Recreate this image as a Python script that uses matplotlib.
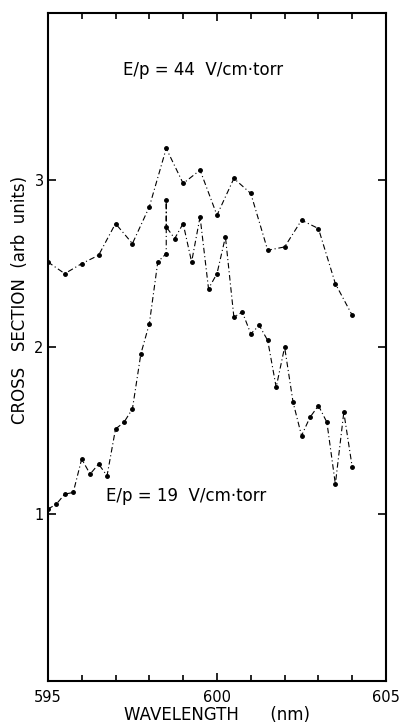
import matplotlib
matplotlib.use("Agg")
import matplotlib.pyplot as plt
from matplotlib.ticker import MultipleLocator

# E/p = 44 V/cm·torr (upper curve)
wl_44 = [595.0, 595.5, 596.0, 596.5, 597.0, 597.5, 598.0, 598.5, 599.0, 599.5,
         600.0, 600.5, 601.0, 601.5, 602.0, 602.5, 603.0, 603.5, 604.0]
cs_44 = [2.51, 2.44, 2.50, 2.55, 2.74, 2.62, 2.84, 3.19, 2.98, 3.06,
         2.79, 3.01, 2.92, 2.58, 2.60, 2.76, 2.71, 2.38, 2.19]

# E/p = 19 V/cm·torr (lower curve)
wl_19 = [595.0, 595.25, 595.5, 595.75, 596.0, 596.25, 596.5, 596.75, 597.0, 597.25,
         597.5, 597.75, 598.0, 598.25, 598.5, 598.5, 598.5, 598.75, 599.0, 599.25,
         599.5, 599.75, 600.0, 600.25, 600.5, 600.75, 601.0, 601.25, 601.5, 601.75,
         602.0, 602.25, 602.5, 602.75, 603.0, 603.25, 603.5, 603.75, 604.0]
cs_19 = [1.03, 1.06, 1.12, 1.13, 1.33, 1.24, 1.30, 1.23, 1.51, 1.55,
         1.63, 1.96, 2.14, 2.51, 2.56, 2.88, 2.72, 2.65, 2.74, 2.51,
         2.78, 2.35, 2.44, 2.66, 2.18, 2.21, 2.08, 2.13, 2.04, 1.76,
         2.00, 1.67, 1.47, 1.58, 1.65, 1.55, 1.18, 1.61, 1.28]

label_44 = "E/p = 44  V/cm·torr"
label_19 = "E/p = 19  V/cm·torr"
x_ticks = [595, 600, 605]
y_ticks = [1, 2, 3]

fig = plt.figure(figsize=(4.09, 7.27), dpi=100)
ax = fig.add_axes([0.117, 0.063, 0.827, 0.919])

ls = (0, (5, 2.5, 1, 2.5))
ax.plot(wl_44, cs_44, color="black", lw=0.8, linestyle=ls, marker="o", ms=2.5)
ax.plot(wl_19, cs_19, color="black", lw=0.8, linestyle=ls, marker="o", ms=2.5)

ax.set_xlim(595, 605)
ax.set_ylim(0, 4)
ax.set_xticks(x_ticks)
ax.set_yticks(y_ticks)
ax.xaxis.set_minor_locator(MultipleLocator(1))
ax.tick_params(which="both", direction="in", top=True, right=True,
               labelsize=10.5, width=1.2, pad=6)
ax.tick_params(which="major", length=6)
ax.tick_params(which="minor", length=4)
ax.tick_params(axis="y", which="major", pad=3)
for s in ax.spines.values():
    s.set_linewidth(1.5)

ax.text(599.6, 3.66, label_44, ha="center", va="center", fontsize=12)
ax.text(599.1, 1.11, label_19, ha="center", va="center", fontsize=12)

ax.set_xlabel("WAVELENGTH      (nm)", fontsize=12, labelpad=1)
ax.set_ylabel("CROSS   SECTION  (arb  units)", fontsize=12)
ax.yaxis.set_label_coords(-0.055, 0.57)

fig.savefig("out.png", dpi=100)
